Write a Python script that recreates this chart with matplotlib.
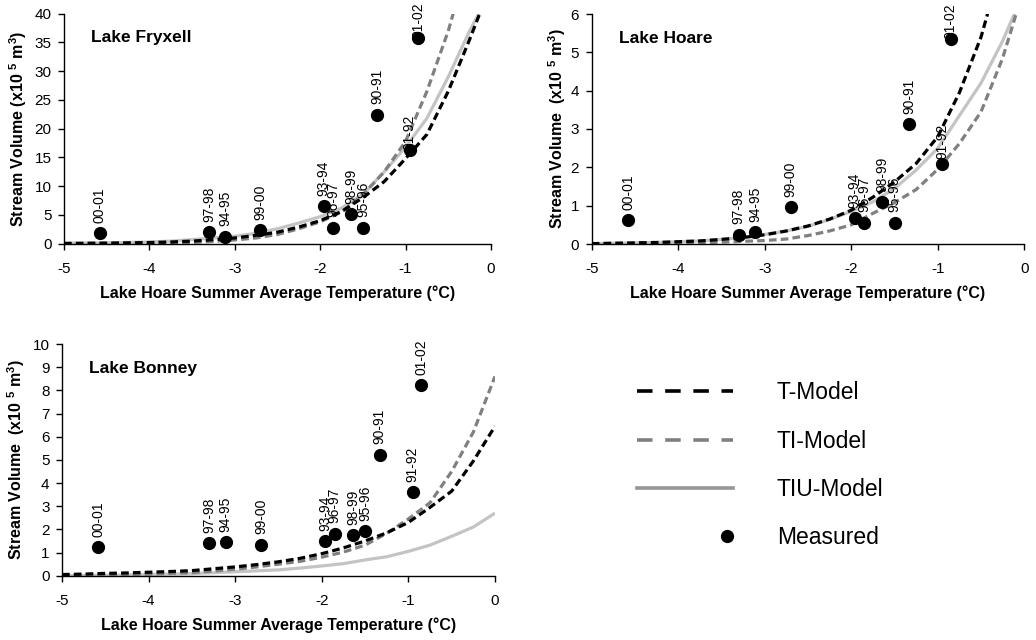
import numpy as np
import matplotlib
matplotlib.use('Agg')
import matplotlib.pyplot as plt
from matplotlib.lines import Line2D
from matplotlib.legend_handler import HandlerLine2DCompound

plt.rcParams['font.family'] = ['Liberation Sans', 'DejaVu Sans']
plt.rcParams['axes.unicode_minus'] = False
plt.rcParams['mathtext.fontset'] = 'custom'
plt.rcParams['mathtext.rm'] = 'Liberation Sans:bold'
plt.rcParams['mathtext.it'] = 'Liberation Sans:bold'
plt.rcParams['mathtext.bf'] = 'Liberation Sans:bold'
plt.rcParams['mathtext.default'] = 'rm'

# ---------------- data ----------------
seasons = ['00-01', '97-98', '94-95', '99-00', '93-94', '96-97',
           '98-99', '95-96', '90-91', '91-92', '01-02']
temps = [-4.58, -3.30, -3.11, -2.70, -1.96, -1.85, -1.64, -1.50, -1.33, -0.95, -0.85]

fryxell_measured = [1.8, 2.0, 1.2, 2.3, 6.5, 2.8, 5.1, 2.8, 22.4, 16.3, 35.8]
hoare_measured = [0.62, 0.24, 0.31, 0.96, 0.68, 0.56, 1.09, 0.56, 3.12, 2.08, 5.35]
bonney_measured = [1.22, 1.40, 1.45, 1.34, 1.48, 1.81, 1.74, 1.91, 5.22, 3.61, 8.22]

model_temps = [-5.0, -4.75, -4.5, -4.25, -4.0, -3.75, -3.5, -3.25, -3.0, -2.75, -2.5,
               -2.25, -2.0, -1.75, -1.5, -1.25, -1.0, -0.75, -0.5, -0.25, 0.0]

fryxell_T = [0.05, 0.07, 0.1, 0.15, 0.2, 0.3, 0.45, 0.7, 1.0, 1.45, 2.0,
             2.9, 4.0, 5.6, 8.0, 10.8, 14.8, 19.0, 26.5, 35.5, 45.0]
fryxell_TI = [0.02, 0.03, 0.05, 0.07, 0.1, 0.15, 0.22, 0.4, 0.65, 1.0, 1.6,
              2.6, 3.8, 5.5, 8.5, 12.5, 17.8, 26.5, 37.0, 50.0, 65.0]
fryxell_TIU = [0.1, 0.12, 0.15, 0.22, 0.3, 0.45, 0.7, 1.0, 1.3, 1.8, 2.6,
               3.6, 4.7, 6.2, 8.6, 12.5, 16.8, 21.8, 29.0, 37.0, 44.0]

hoare_T = [0.01, 0.02, 0.03, 0.04, 0.06, 0.08, 0.12, 0.17, 0.24, 0.34, 0.47,
           0.65, 0.88, 1.22, 1.62, 2.1, 2.8, 3.95, 5.4, 7.4, 10.0]
hoare_TI = [0.0, 0.005, 0.01, 0.015, 0.02, 0.03, 0.05, 0.07, 0.09, 0.13, 0.22,
            0.34, 0.5, 0.8, 1.08, 1.42, 1.95, 2.62, 3.45, 4.85, 6.7]
hoare_TIU = [0.01, 0.02, 0.03, 0.04, 0.06, 0.08, 0.12, 0.17, 0.25, 0.34, 0.46,
             0.64, 0.85, 1.1, 1.45, 1.93, 2.5, 3.35, 4.2, 5.3, 6.6]

bonney_T = [0.05, 0.07, 0.1, 0.12, 0.15, 0.18, 0.22, 0.3, 0.38, 0.48, 0.6,
            0.75, 0.95, 1.2, 1.5, 1.85, 2.3, 2.95, 3.65, 4.95, 6.45]
bonney_TI = [0.02, 0.03, 0.04, 0.05, 0.07, 0.1, 0.13, 0.2, 0.28, 0.38, 0.5,
             0.62, 0.8, 1.02, 1.32, 1.83, 2.45, 3.15, 4.5, 6.2, 8.6]
bonney_TIU = [0.0, 0.01, 0.02, 0.03, 0.05, 0.07, 0.09, 0.13, 0.17, 0.21, 0.25,
              0.33, 0.42, 0.52, 0.68, 0.82, 1.05, 1.32, 1.7, 2.1, 2.7]

x_ticks = [-5, -4, -3, -2, -1, 0]
x_ticklabels = ['-5', '-4', '-3', '-2', '-1', '0']
fryxell_yticks = [0, 5, 10, 15, 20, 25, 30, 35, 40]
hoare_yticks = [0, 1, 2, 3, 4, 5, 6]
bonney_yticks = [0, 1, 2, 3, 4, 5, 6, 7, 8, 9, 10]

legend_labels = ['T-Model', 'TI-Model', 'TIU-Model', 'Measured']

# ---------------- styling ----------------
C_T = '#000000'
C_TI = '#808080'
C_TIU = '#c4c4c4'
C_TIU_LEG = '#969696'
LW = 2.3
DASH = (2.4, 1.3)

xlabel = 'Lake Hoare Summer Average Temperature (°C)'

fig = plt.figure(figsize=(10.36, 6.40), dpi=100)

panels = [
    dict(name='Lake Fryxell', rect=[64 / 1036, 1 - 243.7 / 640, 427 / 1036, 230.2 / 640],
         T=fryxell_T, TI=fryxell_TI, TIU=fryxell_TIU, meas=fryxell_measured,
         yticks=fryxell_yticks, ylabel='Stream Volume (x10 $^{5}$ m$^{3}$)',
         offsets={'01-02': 0, '91-92': 0}, ylabelpad=4),
    dict(name='Lake Hoare', rect=[591.7 / 1036, 1 - 244 / 640, 432.6 / 1036, 230 / 640],
         T=hoare_T, TI=hoare_TI, TIU=hoare_TIU, meas=hoare_measured,
         yticks=hoare_yticks, ylabel='Stream Volume  (x10 $^{5}$ m$^{3}$)',
         offsets={'01-02': 0, '91-92': 4}, ylabelpad=2),
    dict(name='Lake Bonney', rect=[62 / 1036, 1 - 575.7 / 640, 433 / 1036, 231.7 / 640],
         T=bonney_T, TI=bonney_TI, TIU=bonney_TIU, meas=bonney_measured,
         yticks=bonney_yticks, ylabel='Stream Volume  (x10 $^{5}$ m$^{3}$)',
         offsets={}, ylabelpad=4),
]

for p in panels:
    ax = fig.add_axes(p['rect'])
    ax.plot(model_temps, p['TIU'], color=C_TIU, lw=LW, solid_capstyle='butt', zorder=2)
    ax.plot(model_temps, p['TI'], color=C_TI, lw=LW, dashes=DASH, zorder=2.1)
    ax.plot(model_temps, p['T'], color=C_T, lw=LW, dashes=DASH, zorder=2.2)
    ax.plot(temps, p['meas'], linestyle='none', marker='o', ms=8.5,
            color='black', zorder=5, clip_on=False)
    for s, t, v in zip(seasons, temps, p['meas']):
        off = p['offsets'].get(s, 7.5)
        ax.annotate(s, (t, v), xytext=(0, off), textcoords='offset points',
                    rotation=90, ha='center', va='bottom', fontsize=10,
                    annotation_clip=False, zorder=4)
    ax.set_xlim(-5, 0)
    ax.set_ylim(p['yticks'][0], p['yticks'][-1])
    ax.set_xticks(x_ticks)
    ax.set_xticklabels(x_ticklabels)
    ax.set_yticks(p['yticks'])
    ax.tick_params(direction='out', length=4, width=1, labelsize=11, pad=5)
    ax.tick_params(axis='x', pad=9)
    for sp in ['top', 'right']:
        ax.spines[sp].set_visible(False)
    for sp in ['left', 'bottom']:
        ax.spines[sp].set_linewidth(1)
    ax.set_xlabel(xlabel, fontsize=11.5, fontweight='bold', labelpad=7)
    ax.set_ylabel(p['ylabel'], fontsize=11.5, fontweight='bold', labelpad=p['ylabelpad'])
    ax.text(0.063, 0.895, p['name'], transform=ax.transAxes, fontsize=12.5,
            fontweight='bold', ha='left', va='center')


class RightMarkerHandler(HandlerLine2DCompound):
    def get_xdata(self, legend, xdescent, ydescent, width, height, fontsize):
        xdata = np.array([-xdescent, -xdescent + width])
        return xdata, np.array([-xdescent + width - 0.07 * width])


handles = [
    Line2D([], [], color=C_T, lw=2.6, dashes=(4.3, 3.5)),
    Line2D([], [], color=C_TI, lw=2.6, dashes=(4.3, 3.5)),
    Line2D([], [], color=C_TIU_LEG, lw=2.6),
    Line2D([], [], linestyle='none', marker='o', ms=8.5, color='black'),
]
leg = fig.legend(handles, legend_labels, loc='upper left',
                 bbox_to_anchor=(628 / 1036, 1 - 372 / 640), frameon=False,
                 fontsize=16.5, handlelength=4.2, handletextpad=1.9,
                 labelspacing=1.11, borderaxespad=0,
                 handler_map={handles[3]: RightMarkerHandler(numpoints=1)})

fig.savefig('out.png', dpi=100)
